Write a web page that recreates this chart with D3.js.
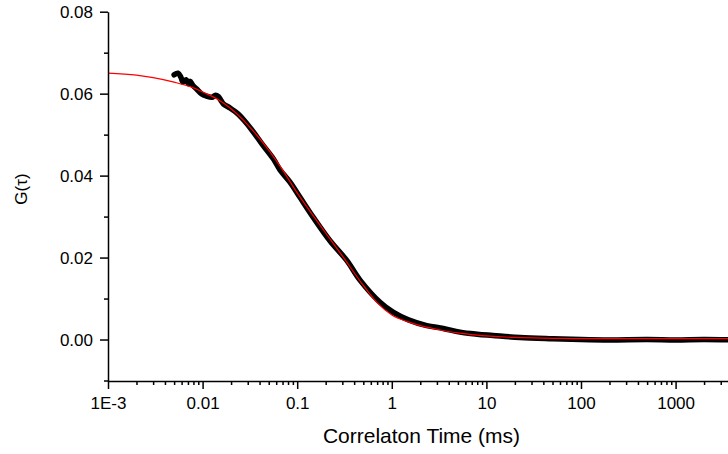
<!DOCTYPE html>
<html>
<head>
<meta charset="utf-8">
<script src="https://cdn.jsdelivr.net/npm/d3@7"></script>
<style>
  body { margin: 0; background: #fff; }
  svg { display: block; font-family: "Liberation Sans", Arial, sans-serif; }
</style>
</head>
<body>
<script>
// measured data (tau in ms, G)
var dataTau = [0.0050, 0.0055, 0.0059, 0.0062, 0.0067, 0.0071, 0.0074, 0.0079, 0.0086, 0.0098, 0.0110, 0.0125, 0.0137, 0.0147, 0.0156, 0.0166, 0.0195, 0.0238, 0.0281, 0.0330, 0.0372, 0.0422, 0.0559, 0.0658, 0.0839, 0.107, 0.148, 0.222, 0.334, 0.461, 0.75, 1.03, 1.5, 2.34, 3.5, 5.26, 8, 11.7, 22.6, 50, 100, 200, 500, 1000, 2000, 4300];
var dataG = [0.0646, 0.0650, 0.0640, 0.0628, 0.0634, 0.0624, 0.0630, 0.0620, 0.0612, 0.0599, 0.0594, 0.0591, 0.0596, 0.0593, 0.0584, 0.0575, 0.0565, 0.0550, 0.0532, 0.0512, 0.0496, 0.0478, 0.0441, 0.0414, 0.0384, 0.0347, 0.0298, 0.0241, 0.0193, 0.0145, 0.0091, 0.0067, 0.0048, 0.0034, 0.0027, 0.0018, 0.0013, 0.0010, 0.0005, 0.0002, 0.0000, -0.0001, 0.0000, -0.0001, 0.0000, -0.0001];

// fit curve
var fitTau = [0.001, 0.002, 0.003, 0.005, 0.008, 0.01, 0.015, 0.02, 0.03, 0.05, 0.07, 0.1, 0.15, 0.2, 0.3, 0.5, 0.7, 1, 1.5, 2, 3, 5, 7, 10, 20, 50, 100, 1000, 4300];
var fitG = [0.0650, 0.0645, 0.0639, 0.0628, 0.0614, 0.0604, 0.0584, 0.0563, 0.0524, 0.0462, 0.0414, 0.0358, 0.0300, 0.0260, 0.0204, 0.0132, 0.0090, 0.0060, 0.0043, 0.0034, 0.0025, 0.0016, 0.0012, 0.0009, 0.0005, 0.0003, 0.0002, 0.0002, 0.0002];

var xMajor = [0.001, 0.01, 0.1, 1, 10, 100, 1000];
var xLabels = ['1E-3', '0.01', '0.1', '1', '10', '100', '1000'];
var yMajor = [0, 0.02, 0.04, 0.06, 0.08];
var yMinor = [-0.01, 0.01, 0.03, 0.05, 0.07];

var width = 728, height = 454;
var svg = d3.select('body').append('svg').attr('width', width).attr('height', height);

var x = d3.scaleLog().domain([0.001, Math.pow(10, 3.628)]).range([108, 735]);
var y = d3.scaleLinear().domain([-0.01, 0.08]).range([380.5, 11.7]);

var xMinor = [];
for (var d = -3; d <= 3; d++) {
    for (var k = 2; k <= 9; k++) {
        var v = k * Math.pow(10, d);
        if (v < x.domain()[1]) xMinor.push(v);
    }
}

var plot = svg.append('g');
svg.append('clipPath').attr('id', 'clip').append('rect')
    .attr('x', 108).attr('y', 0).attr('width', 640).attr('height', 381);

var dataLine = d3.line().x(function (p) { return x(p[0]); }).y(function (p) { return y(p[1]); })
    .curve(d3.curveCatmullRom);
var fitLine = d3.line().x(function (p) { return x(p[0]); }).y(function (p) { return y(p[1]); })
    .curve(d3.curveMonotoneX);

// data line (thick black)
plot.append('path')
    .datum(dataTau.map(function (t, i) { return [t, dataG[i]]; }))
    .attr('clip-path', 'url(#clip)')
    .attr('fill', 'none')
    .attr('stroke', '#000')
    .attr('stroke-width', 5.5)
    .attr('stroke-linejoin', 'round')
    .attr('stroke-linecap', 'round')
    .attr('d', dataLine);

// fit line (thin red)
plot.append('path')
    .datum(fitTau.map(function (t, i) { return [t, fitG[i]]; }))
    .attr('clip-path', 'url(#clip)')
    .attr('fill', 'none')
    .attr('stroke', '#ff0000')
    .attr('stroke-width', 1.2)
    .attr('d', fitLine);

// x axis
var xAxis = svg.append('g').attr('transform', 'translate(0,381)');
xAxis.call(d3.axisBottom(x).tickValues(xMajor).tickSize(8).tickSizeOuter(0)
    .tickFormat(function (d, i) { return xLabels[i]; }));
svg.append('g').attr('transform', 'translate(0,381)')
    .call(d3.axisBottom(x).tickValues(xMinor).tickSize(4).tickFormat('').tickSizeOuter(0))
    .select('.domain').remove();

// y axis
var yAxis = svg.append('g').attr('transform', 'translate(108,0)');
yAxis.call(d3.axisLeft(y).tickValues(yMajor).tickSize(8).tickSizeOuter(0).tickFormat(d3.format('.2f')));
svg.append('g').attr('transform', 'translate(108,0)')
    .call(d3.axisLeft(y).tickValues(yMinor).tickSize(4).tickFormat('').tickSizeOuter(0))
    .select('.domain').remove();

svg.selectAll('.domain').attr('stroke-width', 1.5);
svg.selectAll('.tick line').attr('stroke-width', 1.5);
xAxis.selectAll('.tick text').attr('font-size', 17).attr('font-family', '"Liberation Sans", Arial, sans-serif')
    .attr('dy', null).attr('y', 28).attr('fill', '#000');
yAxis.selectAll('.tick text').attr('font-size', 17).attr('font-family', '"Liberation Sans", Arial, sans-serif')
    .attr('x', -15).attr('dy', '0.35em').attr('fill', '#000');

// titles
svg.append('text')
    .attr('x', 421.5).attr('y', 443)
    .attr('text-anchor', 'middle')
    .attr('font-size', 21)
    .text('Correlaton Time (ms)');

svg.append('text')
    .attr('transform', 'translate(27,189) rotate(-90)')
    .attr('text-anchor', 'middle')
    .attr('font-size', 17)
    .text('G(τ)');
</script>
</body>
</html>
